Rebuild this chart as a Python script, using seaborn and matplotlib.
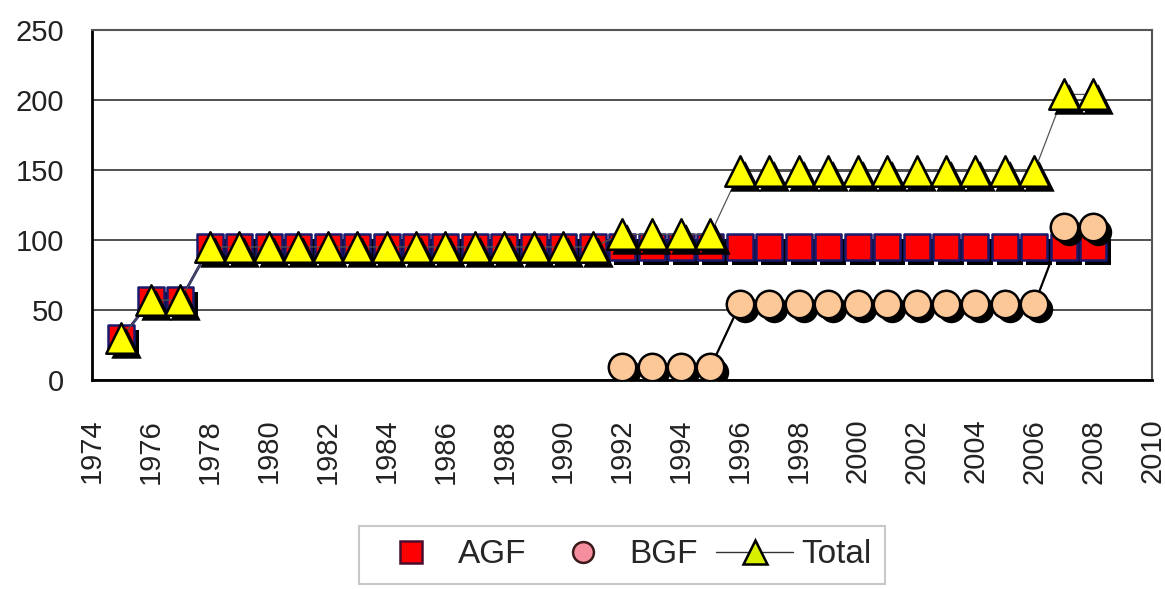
import numpy as np
import pandas as pd
import matplotlib
matplotlib.use("Agg")
import matplotlib.pyplot as plt
import matplotlib.transforms as mtrans
from matplotlib.lines import Line2D
import seaborn as sns

years = list(range(1975, 2009))
agf = [30, 57, 57] + [95] * 31
bgf_years = list(range(1992, 2009))
bgf = [9, 9, 9, 9] + [54] * 11 + [109, 109]
total = [30, 57, 57] + [95] * 14 + [104] * 4 + [149] * 11 + [204, 204]

x_ticks = list(range(1974, 2011, 2))
y_ticks = [0, 50, 100, 150, 200, 250]

sns.set_style("white")
plt.rcParams["font.family"] = ["Liberation Sans", "DejaVu Sans"]

fig = plt.figure(figsize=(11.65, 5.89), dpi=100)
ax = fig.add_axes([0.079, 0.355, 0.910, 0.594])

df_a = pd.DataFrame({"year": years, "value": agf})
df_b = pd.DataFrame({"year": bgf_years, "value": bgf})
df_t = pd.DataFrame({"year": years, "value": total})

shadow = mtrans.offset_copy(ax.transData, fig=fig, x=3.5, y=-3.5, units="points")

# connecting lines
sns.lineplot(data=df_a, x="year", y="value", ax=ax, color="#1a1a6e", lw=2, zorder=2)
sns.lineplot(data=df_b, x="year", y="value", ax=ax, color="black", lw=1.6, zorder=2)
sns.lineplot(data=df_t, x="year", y="value", ax=ax, color="#555555", lw=0.9, zorder=6)

def markers(df, marker, size, face, edge, z):
    ax.scatter(df["year"], df["value"], marker=marker, s=size, c="black",
               edgecolors="black", transform=shadow, zorder=z, linewidths=0)
    sns.scatterplot(data=df, x="year", y="value", ax=ax, marker=marker, s=size,
                    color=face, edgecolor=edge, linewidth=1.8, zorder=z + 1)

markers(df_a, "s", 340, "#ff0000", "#1a1a6e", 3)
markers(df_b, "o", 390, "#fcc898", "black", 5)
markers(df_t, "^", 480, "#ffff00", "black", 7)

ax.set_xlim(1974, 2010)
ax.set_ylim(0, 250)
ax.set_xticks(x_ticks)
ax.set_yticks(y_ticks)
ax.set_xticklabels([str(t) for t in x_ticks], rotation=90, fontsize=21, color="#222222")
ax.set_yticklabels([str(t) for t in y_ticks], fontsize=21, color="#222222")
ax.set_xlabel("")
ax.set_ylabel("")
ax.yaxis.grid(True, color="#333333", lw=1.2)
ax.set_axisbelow(True)
ax.tick_params(axis="both", direction="out", length=8, width=1.2, color="black")
ax.tick_params(axis="x", pad=20)
ax.tick_params(axis="y", pad=12)
for side in ["left", "bottom"]:
    ax.spines[side].set_color("black")
    ax.spines[side].set_linewidth(2)
for side in ["top", "right"]:
    ax.spines[side].set_color("#555555")
    ax.spines[side].set_linewidth(1.5)

handles = [
    Line2D([], [], ls="none", marker="s", markersize=16, markerfacecolor="#ff0000",
           markeredgecolor="#4a0d2e", markeredgewidth=1.8),
    Line2D([], [], ls="none", marker="o", markersize=15, markerfacecolor="#f58fa0",
           markeredgecolor="#3a1a1a", markeredgewidth=1.8),
    Line2D([], [], color="#333333", lw=1, marker="^", markersize=17,
           markerfacecolor="#d8f000", markeredgecolor="black", markeredgewidth=1.8),
]
leg = fig.legend(handles, ["AGF", "BGF", "Total"], loc="center", ncol=3,
                 bbox_to_anchor=(0.534, 0.058), fontsize=24, frameon=True,
                 fancybox=False, edgecolor="#bbbbbb", handlelength=2.3,
                 columnspacing=0.55, handletextpad=0.25, borderpad=0.4,
                 borderaxespad=0)
leg.get_frame().set_linewidth(1.5)

fig.savefig("out.png", dpi=100)
